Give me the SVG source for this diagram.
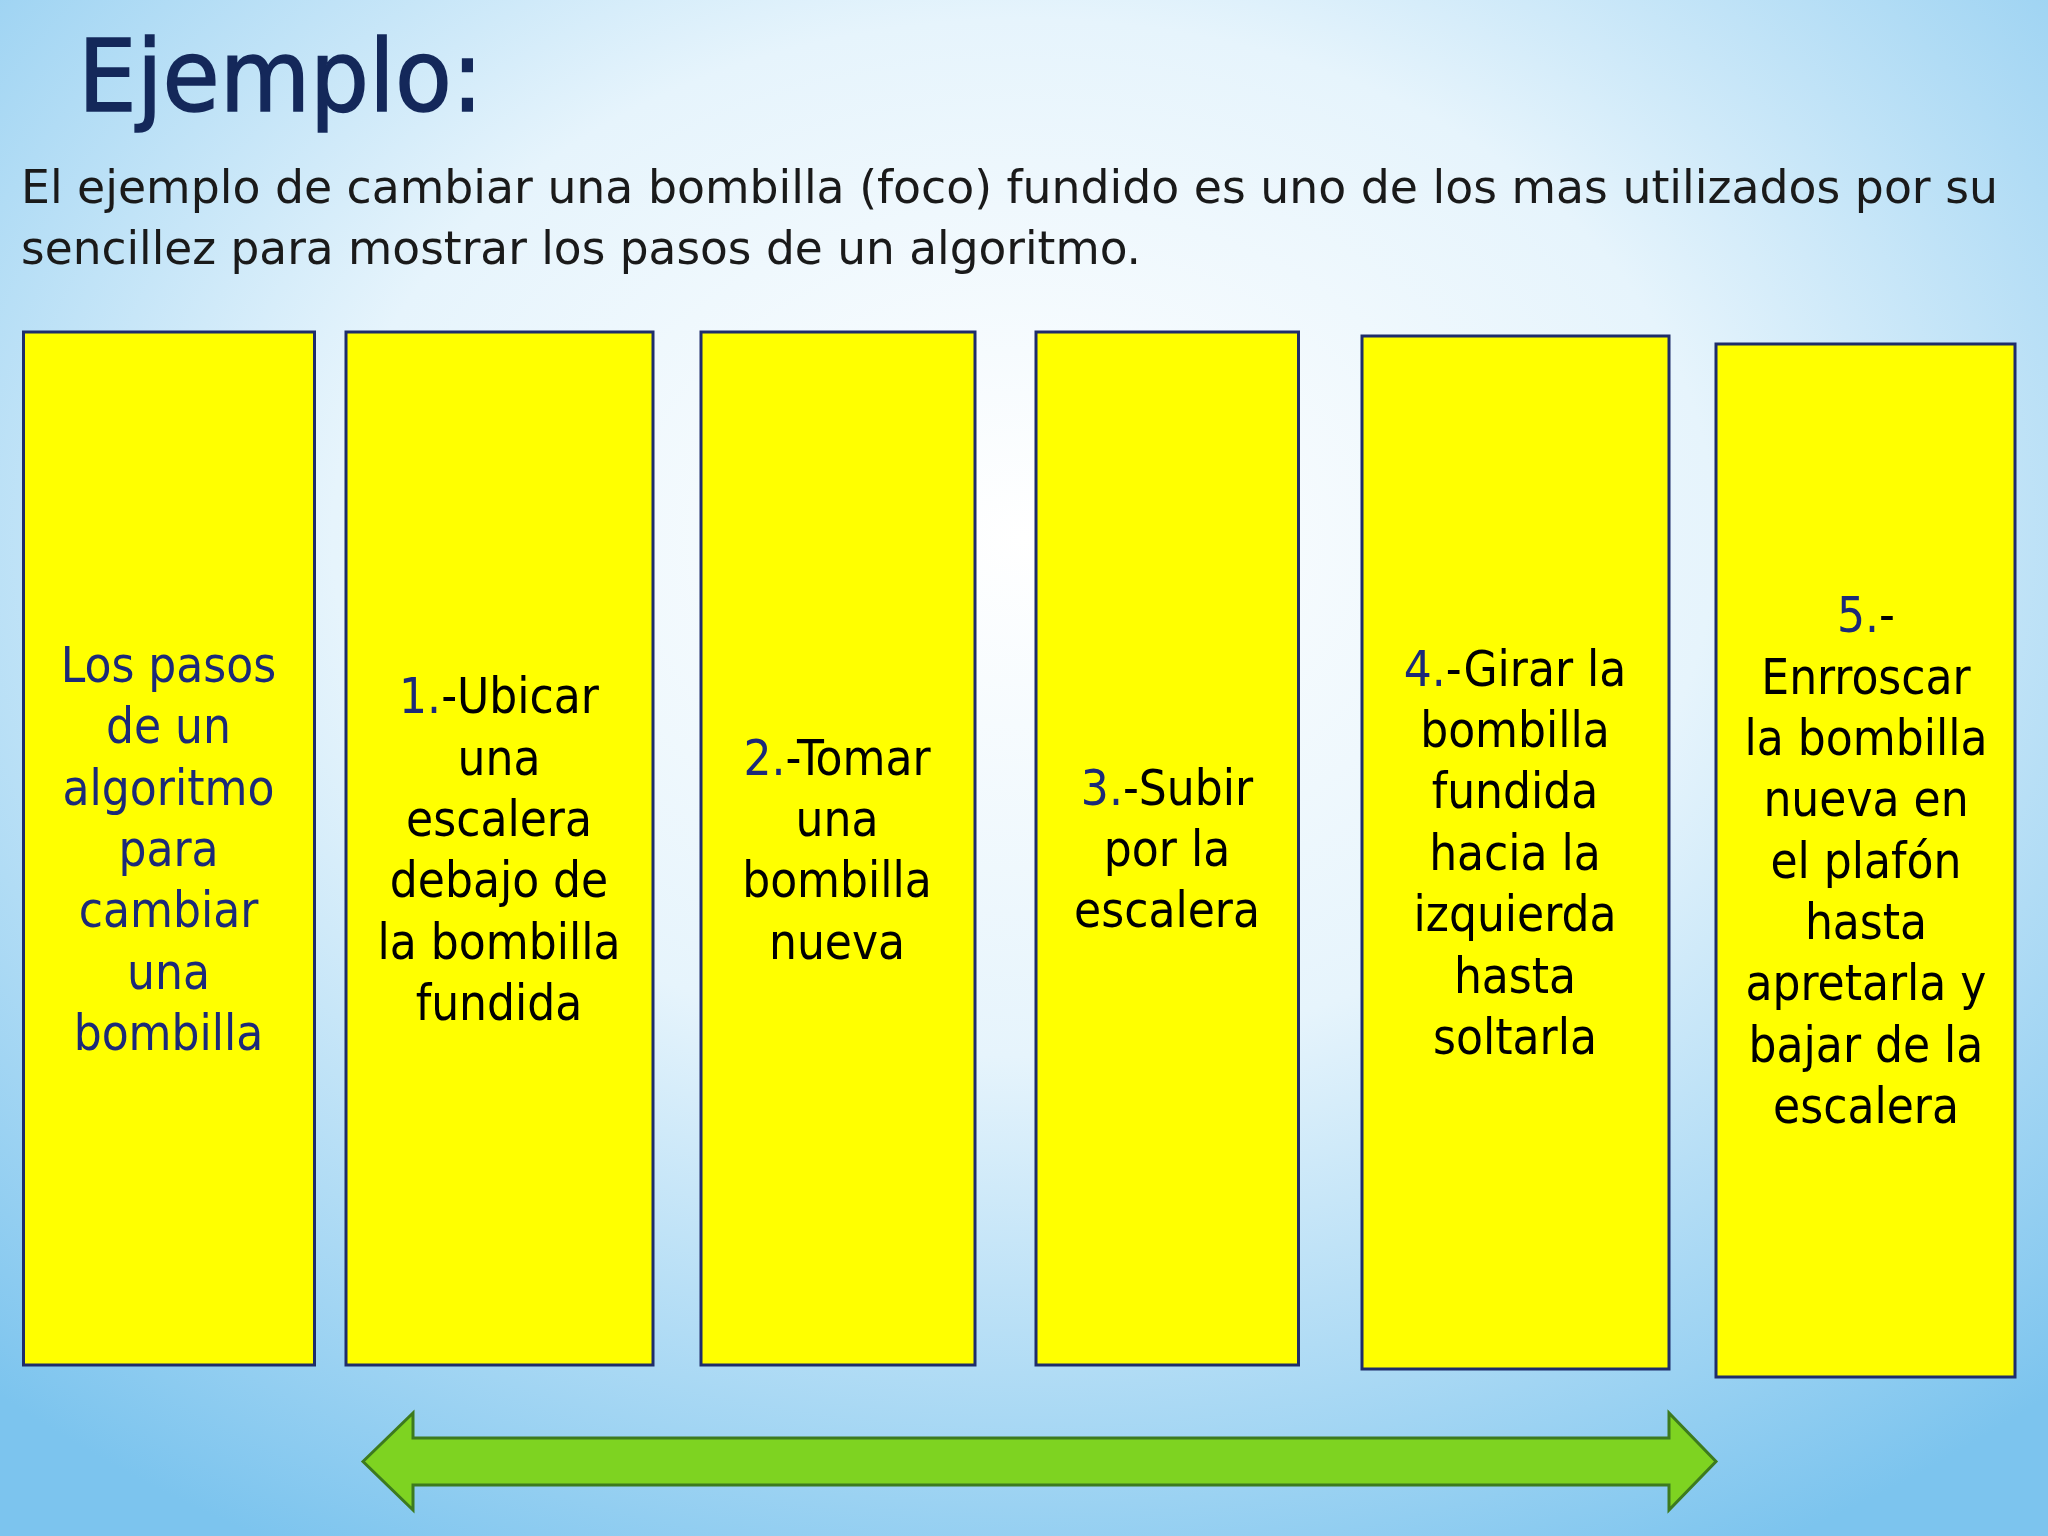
<svg xmlns="http://www.w3.org/2000/svg" width="2048" height="1536" viewBox="0 0 2048 1536">
<defs>
<radialGradient id="bg" cx="0.5" cy="0.35" r="0.75">
<stop offset="0" stop-color="#ffffff"/>
<stop offset="0.45" stop-color="#e6f4fc"/>
<stop offset="1" stop-color="#7cc4ee"/>
</radialGradient>
<style>
.box{fill:#ffff00;stroke:#1f2d6a;stroke-width:3}
.t{font-family:"DejaVu Sans Condensed","DejaVu Sans",sans-serif;font-size:49px;text-anchor:middle;fill:#000}
.n{fill:#1c2a78}
</style>
</defs>
<rect width="2048" height="1536" fill="url(#bg)"/>
<text x="78" y="111" font-family="'DejaVu Sans Condensed','DejaVu Sans',sans-serif" font-size="100" fill="#14285a" stroke="#14285a" stroke-width="1.5" textLength="405" lengthAdjust="spacingAndGlyphs">Ejemplo:</text>
<g font-family="'DejaVu Sans Condensed','DejaVu Sans',sans-serif" font-size="47" fill="#1a1a1a">
<text x="21" y="203" textLength="1977" lengthAdjust="spacingAndGlyphs">El ejemplo de cambiar una bombilla (foco) fundido es uno de los mas utilizados por su</text>
<text x="21" y="264" textLength="1120" lengthAdjust="spacingAndGlyphs">sencillez para mostrar los pasos de un algoritmo.</text>
</g>
<g id="n0"><rect class="box" x="23.5" y="332" width="291" height="1033"/>
<text class="t n"><tspan x="168.5" y="682">Los pasos</tspan><tspan x="168.5" y="743">de un</tspan><tspan x="168.5" y="805">algoritmo</tspan><tspan x="168.5" y="866">para</tspan><tspan x="168.5" y="927">cambiar</tspan><tspan x="168.5" y="989">una</tspan><tspan x="168.5" y="1050">bombilla</tspan></text></g>
<g id="n1"><rect class="box" x="346" y="332" width="307" height="1033"/>
<text class="t"><tspan x="499" y="713"><tspan class="n">1.</tspan>-Ubicar</tspan><tspan x="499" y="775">una</tspan><tspan x="499" y="836">escalera</tspan><tspan x="499" y="897">debajo de</tspan><tspan x="499" y="959">la bombilla</tspan><tspan x="499" y="1020">fundida</tspan></text></g>
<g id="n2"><rect class="box" x="701" y="332" width="274" height="1033"/>
<text class="t"><tspan x="837" y="775"><tspan class="n">2.</tspan>-Tomar</tspan><tspan x="837" y="836">una</tspan><tspan x="837" y="897">bombilla</tspan><tspan x="837" y="959">nueva</tspan></text></g>
<g id="n3"><rect class="box" x="1036" y="332" width="262.5" height="1033"/>
<text class="t"><tspan x="1167" y="805"><tspan class="n">3.</tspan>-Subir</tspan><tspan x="1167" y="866">por la</tspan><tspan x="1167" y="927">escalera</tspan></text></g>
<g id="n4"><rect class="box" x="1362" y="336" width="307" height="1033"/>
<text class="t"><tspan x="1515" y="686"><tspan class="n">4.</tspan>-Girar la</tspan><tspan x="1515" y="747">bombilla</tspan><tspan x="1515" y="808">fundida</tspan><tspan x="1515" y="870">hacia la</tspan><tspan x="1515" y="931">izquierda</tspan><tspan x="1515" y="993">hasta</tspan><tspan x="1515" y="1054">soltarla</tspan></text></g>
<g id="n5"><rect class="box" x="1716" y="344" width="299" height="1033"/>
<text class="t"><tspan x="1866" y="632"><tspan class="n">5.</tspan>-</tspan><tspan x="1866" y="694">Enrroscar</tspan><tspan x="1866" y="755">la bombilla</tspan><tspan x="1866" y="816">nueva en</tspan><tspan x="1866" y="878">el plafón</tspan><tspan x="1866" y="939">hasta</tspan><tspan x="1866" y="1000">apretarla y</tspan><tspan x="1866" y="1062">bajar de la</tspan><tspan x="1866" y="1123">escalera</tspan></text></g>
<g id="connectors">
<polygon points="363,1461.5 413,1413 413,1438 1669,1438 1669,1413 1716,1461.5 1669,1510 1669,1485 413,1485 413,1510" fill="#7ed321" stroke="#3d7a1e" stroke-width="3"/>
</g>
</svg>
